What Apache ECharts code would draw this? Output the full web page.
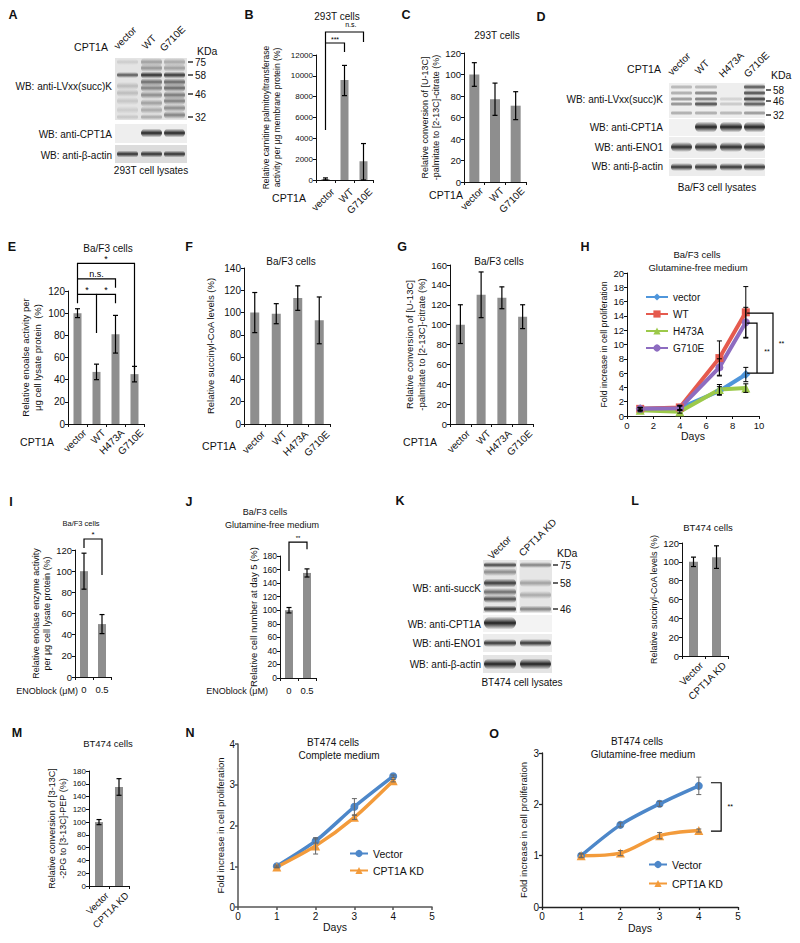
<!DOCTYPE html>
<html><head><meta charset="utf-8">
<script src="https://cdn.jsdelivr.net/npm/echarts/dist/echarts.min.js"></script>
<style>html,body{margin:0;padding:0;background:#fff}#c{width:800px;height:943px}</style>
</head><body><div id="c"></div><script>
// ---------------- DATA ----------------
const cpt3 = ['vector','WT','G710E'];
const cpt4 = ['vector','WT','H473A','G710E'];
const enoDose = ['0','0.5'];
const kdCats = ['Vector','CPT1A KD'];

const B_mean=[100,9600,1800], B_lo=[0,8100,0], B_hi=[200,11000,3500];
const C_mean=[100,77,71], C_lo=[89,62,58], C_hi=[111,92,84];
const E_mean=[100,47,81,45], E_lo=[96,40,64,38], E_hi=[104,54,98,52];
const F_mean=[100,99,113,93], F_lo=[82,90,102,72], F_hi=[118,108,124,114];
const G_mean=[100,130,127,108], G_lo=[81,107,116,96], G_hi=[120,153,138,120];
const I_mean=[100,50], I_lo=[83,41], I_hi=[117,59];
const J_mean=[100,155], J_lo=[96,149], J_hi=[104,161];
const L_mean=[100,105], L_lo=[95,93], L_hi=[105,117];
const M_mean=[100,155], M_lo=[96,142], M_hi=[104,168];

const H_days=[1,4,7,9];
const H_vector=[1.0,1.1,3.5,5.8],  H_vector_err=[0.2,0.3,0.6,1.0];
const H_WT=[1.0,1.2,8.1,14.5],     H_WT_err=[0.2,0.3,2.4,3.6];
const H_H473A=[0.8,0.6,3.7,3.9],   H_H473A_err=[0.2,0.2,0.7,0.6];
const H_G710E=[1.0,1.1,6.8,13.1],  H_G710E_err=[0.2,0.3,1.2,2.1];

const NO_days=[1,2,3,4];
const N_vector=[1.0,1.62,2.46,3.21], N_vector_err=[0.03,0.05,0.2,0.03];
const N_kd=[0.98,1.5,2.2,3.1],       N_kd_err=[0.02,0.2,0.05,0.03];
const O_vector=[1.0,1.6,2.01,2.36],  O_vector_err=[0.04,0.04,0.05,0.17];
const O_kd=[1.0,1.05,1.39,1.49],     O_kd_err=[0.03,0.05,0.06,0.03];

const yTicksH=[0,20,2], yTicksN=[0,4,1], yTicksO=[0,3,1], xTicksH=[0,10,2], xTicksNO=[0,5,1];

// ---------------- STYLE / LAYOUT ----------------
const FONT='"Liberation Sans", Arial, Helvetica, sans-serif';
const BAR='#8e8e8e';
const grids=[], xAxes=[], yAxes=[], series=[], graphics=[];

function txt(x,y,s,fs,o){o=o||{};graphics.push({type:'text',x:x,y:y,rotation:o.rot||0,z:50,
  style:{text:s,fontSize:fs,fontFamily:FONT,fill:'#111',fontWeight:o.bold?'bold':'normal',
  align:o.align||'center',verticalAlign:o.va||'middle'}});}

function errCustom(gi,xs,lo,hi,cap,color,lw){
  return {type:'custom',xAxisIndex:gi,yAxisIndex:gi,silent:true,z:5,
    data:xs.map((x,i)=>[x,lo[i],hi[i]]),
    renderItem:(p,api)=>{
      const a=api.coord([api.value(0),api.value(1)]), b=api.coord([api.value(0),api.value(2)]);
      const st={stroke:color||'#000',lineWidth:lw||1.2};
      return {type:'group',children:[
        {type:'line',shape:{x1:a[0],y1:a[1],x2:b[0],y2:b[1]},style:st},
        {type:'line',shape:{x1:a[0]-cap,y1:a[1],x2:a[0]+cap,y2:a[1]},style:st},
        {type:'line',shape:{x1:b[0]-cap,y1:b[1],x2:b[0]+cap,y2:b[1]},style:st}]};
    }};
}
function bracketSeries(gi,list){
  return {type:'custom',xAxisIndex:gi,yAxisIndex:gi,silent:true,z:6,
    data:list.map(()=>[0,0]),
    renderItem:(p,api)=>{
      const b=list[p.dataIndex];
      const pts=b.pts.map(q=>api.coord(q));
      const ch=[{type:'polyline',shape:{points:pts},style:{stroke:'#000',lineWidth:1.2,fill:null}}];
      if(b.t){
        let sx=0; b.tx.forEach(v=>{sx+=api.coord([v,b.ty])[0];});
        const cx=sx/b.tx.length+(b.dx||0), cy=api.coord([b.tx[0],b.ty])[1];
        ch.push({type:'text',x:cx,y:cy,style:{text:b.t,fontSize:b.fs||9,fill:'#000',fontFamily:FONT,align:'center',verticalAlign:'middle'}});
      }
      return {type:'group',children:ch};
    }};
}
const axLine={show:true,lineStyle:{color:'#111',width:1}};
const axTick={show:true,length:3,lineStyle:{color:'#111'}};

function barPanel(c){
  grids.push({left:c.g[0],top:c.g[1],width:c.g[2],height:c.g[3]});
  const gi=grids.length-1;
  const lab={rotate:c.rot,interval:0,fontSize:c.cfs||10,color:'#111',margin:7,fontFamily:FONT};
  if(c.rot){lab.align='right';lab.verticalAlign='top';lab.padding=[c.lp||5,0,0,0];lab.margin=c.lm||0;}
  xAxes.push({type:'category',gridIndex:gi,data:c.cats,axisLine:axLine,axisTick:axTick,axisLabel:lab});
  yAxes.push({type:'value',gridIndex:gi,min:0,max:c.max,interval:c.iv,name:c.name,nameLocation:'middle',
    nameGap:c.gap,nameTextStyle:{fontSize:c.nfs,lineHeight:c.nfs+2,color:'#111',fontFamily:FONT},
    axisLine:axLine,axisTick:axTick,splitLine:{show:false},
    axisLabel:{fontSize:c.lfs,color:'#111',margin:3,fontFamily:FONT,formatter:v=>String(v)}});
  series.push({type:'bar',xAxisIndex:gi,yAxisIndex:gi,data:c.mean,barWidth:c.bw||8,silent:true,
    itemStyle:{color:BAR}});
  series.push(errCustom(gi,c.mean.map((v,i)=>i),c.lo,c.hi,2.5));
  if(c.br) series.push(bracketSeries(gi,c.br));
}

barPanel({cats:cpt3,mean:B_mean,lo:B_lo,hi:B_hi,g:[316,55,57,125],max:12000,iv:2000,rot:45,lm:3,bw:8,
  name:'Relative carnitine palmitoyltransferase\nactivity per \u03bcg membrane protein (%)',gap:34,nfs:8.5,lfs:8,
  br:[{pts:[[0,4800],[0,14208],[2,14208],[2,13248]],t:'n.s.',tx:[1,1,2],ty:14900,fs:7},
      {pts:[[0,13152],[1,13152],[1,12288]],t:'***',tx:[0,1],ty:13500,fs:7}]});
barPanel({cats:cpt3,mean:C_mean,lo:C_lo,hi:C_hi,g:[464,53,62,129],max:120,iv:20,rot:45,bw:10,
  name:'Relative conversion of [U-13C]\n-palmitate to [2-13C]-citrate (%)',gap:21,nfs:9,lfs:9.5});
barPanel({cats:cpt4,mean:E_mean,lo:E_lo,hi:E_hi,g:[68,291,76,133],max:120,iv:20,rot:45,bw:8,
  name:'Relative enoalse activity per\n\u03bcg cell lysate protein  (%)',gap:25,nfs:9.5,lfs:10,
  br:[{pts:[[0,109],[0,145],[3,145],[3,49]],t:'*',tx:[1,2],ty:149,fs:9},
      {pts:[[0,131],[2,131],[2,123]],t:'n.s.',tx:[1],ty:135.5,fs:9},
      {pts:[[0,117],[1,117],[1,82]],t:'*',tx:[0,1],ty:121,fs:9},
      {pts:[[1,117],[2,117],[2,109]],t:'*',tx:[1,2],ty:121,fs:9}]});
barPanel({cats:cpt4,mean:F_mean,lo:F_lo,hi:F_hi,g:[244,268,86,156],max:140,iv:20,rot:45,lp:7,bw:9,
  name:'Relative succinyl-CoA levels (%)',gap:28,nfs:9.5,lfs:10});
barPanel({cats:cpt4,mean:G_mean,lo:G_lo,hi:G_hi,g:[450,265,83,159],max:160,iv:20,rot:45,lp:6,bw:9,
  name:'Relative conversion of [U-13C]\n-palmitate to [2-13C]-citrate (%)',gap:20,nfs:9.5,lfs:9.5});
barPanel({cats:enoDose,mean:I_mean,lo:I_lo,hi:I_hi,g:[75,550,36,127],max:120,iv:20,rot:0,cfs:9.5,bw:8,
  name:'Relative enolase enzyme activity\nper \u03bcg cell lysate protein (%)',gap:19,nfs:9,lfs:9.5,
  br:[{pts:[[0,122],[0,130.4],[1,130.4],[1,96.4]],t:'*',tx:[0,1],ty:135,fs:8}]});
barPanel({cats:enoDose,mean:J_mean,lo:J_lo,hi:J_hi,g:[280,556,36,122],max:180,iv:20,rot:0,cfs:9.5,bw:8,
  name:'Relative cell number at day 5 (%)',gap:21,nfs:9.5,lfs:8.5,
  br:[{pts:[[0,158],[0,200.6],[1,200.6],[1,190]],t:'**',tx:[0,1],ty:206,fs:6}]});
barPanel({cats:kdCats,mean:L_mean,lo:L_lo,hi:L_hi,g:[682,543,46,113],max:120,iv:20,rot:45,lp:6,bw:9,
  name:'Relative succinyl-CoA levels (%)',gap:22,nfs:9,lfs:9.5});
barPanel({cats:kdCats,mean:M_mean,lo:M_lo,hi:M_hi,g:[89,771,40,115],max:180,iv:20,rot:45,lp:6,cfs:9.5,bw:8,
  name:'Relative conversion of [3-13C]\n-2PG to [3-13C]-PEP (%)',gap:20,nfs:9,lfs:8});

// ---- line panels ----
function linePanel(c){
  grids.push({left:c.g[0],top:c.g[1],width:c.g[2],height:c.g[3]});
  const gi=grids.length-1;
  const al={show:true,lineStyle:{color:c.axc||'#111',width:c.axw||1}};
  const at={show:true,length:3,lineStyle:{color:c.axc||'#111',width:c.axw||1}};
  xAxes.push({type:'value',gridIndex:gi,min:c.xt[0],max:c.xt[1],interval:c.xt[2],name:'Days',nameLocation:'middle',
    nameGap:c.xgap,nameTextStyle:{fontSize:10.5,color:'#111',fontFamily:FONT},axisLine:al,axisTick:at,splitLine:{show:false},
    axisLabel:{fontSize:c.lfs,color:'#111',margin:4,fontFamily:FONT}});
  yAxes.push({type:'value',gridIndex:gi,min:c.yt[0],max:c.yt[1],interval:c.yt[2],name:'Fold increase in cell proliferation',
    nameLocation:'middle',nameGap:c.ygap,nameTextStyle:{fontSize:c.nfs,color:'#111',fontFamily:FONT},
    axisLine:al,axisTick:at,splitLine:{show:false},axisLabel:{fontSize:c.lfs,color:'#111',margin:3,fontFamily:FONT}});
  c.lines.forEach(L=>{
    series.push({name:L.name,type:'line',xAxisIndex:gi,yAxisIndex:gi,data:c.days.map((d,i)=>[d,L.v[i]]),
      smooth:c.smooth||false,symbol:L.sym,symbolSize:L.ss,lineStyle:{width:c.lw,color:L.col},itemStyle:{color:L.col},z:3,silent:true});
  });
  c.lines.forEach(L=>{
    series.push(errCustom(gi,c.days,L.v.map((v,i)=>v-L.e[i]),L.v.map((v,i)=>v+L.e[i]),2.5,c.errc||'#000',1));
  });
  if(c.br) series.push(bracketSeries(gi,c.br));
}
linePanel({g:[627,273,132,143],xt:xTicksH,yt:yTicksH,days:H_days,xgap:12,ygap:19,nfs:8.8,lfs:9.5,lw:4,
  lines:[{name:'vector',v:H_vector,e:H_vector_err,col:'#4f96db',sym:'diamond',ss:9},
         {name:'WT',v:H_WT,e:H_WT_err,col:'#e55a4e',sym:'rect',ss:8},
         {name:'H473A',v:H_H473A,e:H_H473A_err,col:'#9cc94a',sym:'triangle',ss:9},
         {name:'G710E',v:H_G710E,e:H_G710E_err,col:'#8d6cc0',sym:'circle',ss:8}],
  br:[{pts:[[9.1,14.4],[11.06,14.4],[11.06,6.0],[9.1,6.0]],t:'**',tx:[11.7],ty:10.2,fs:7},
      {pts:[[9.1,13.0],[9.85,13.0],[9.85,6.0]],t:'**',tx:[10.6],ty:9.0,fs:7}]});
linePanel({g:[238,744,194,163],xt:xTicksNO,yt:yTicksN,days:NO_days,xgap:8,ygap:13,nfs:9.5,lfs:10,lw:3.5,smooth:0.25,
  axc:'#555',axw:1.5,errc:'#666',
  lines:[{name:'Vector',v:N_vector,e:N_vector_err,col:'#4d87c9',sym:'circle',ss:8},
         {name:'CPT1A KD',v:N_kd,e:N_kd_err,col:'#f39b3b',sym:'triangle',ss:9}]});
linePanel({g:[542,753,196,154],xt:xTicksNO,yt:yTicksO,days:NO_days,xgap:15,ygap:14,nfs:9.5,lfs:10,lw:3.5,smooth:0.3,
  axc:'#222',axw:1.3,errc:'#666',
  lines:[{name:'Vector',v:O_vector,e:O_vector_err,col:'#4d87c9',sym:'circle',ss:8},
         {name:'CPT1A KD',v:O_kd,e:O_kd_err,col:'#f39b3b',sym:'triangle',ss:9}],
  br:[{pts:[[4.31,2.42],[4.57,2.42],[4.57,1.48],[4.31,1.48]],t:'**',tx:[4.8],ty:1.95,fs:7}]});

// ---------------- TEXT ----------------
[['A',13,15],['B',249,15],['C',406,15],['D',541,17],['E',12,247],['F',189,247],['G',402,247],['H',585,247],
 ['I',11,502],['J',189,502],['K',400,501],['L',635,501],['M',17,733],['N',190,733],['O',494,734]]
 .forEach(p=>txt(p[1],p[2],p[0],12.5,{bold:true}));
txt(337,16,'293T cells',10); txt(497,35,'293T cells',10);
txt(108,248,'Ba/F3 cells',10); txt(291,261,'Ba/F3 cells',10); txt(499,261,'Ba/F3 cells',10);
txt(697,254,'Ba/F3 cells',9.5); txt(698,267,'Glutamine-free medium',9.5);
txt(81,523,'Ba/F3 cells',7.5);
txt(265,512,'Ba/F3 cells',9); txt(272,525,'Glutamine-free medium',9);
txt(708,527,'BT474 cells',9.5); txt(108,743,'BT474 cells',9.5);
txt(333,742,'BT474 cells',10); txt(339,755,'Complete medium',10);
txt(637,741,'BT474 cells',10); txt(643,754,'Glutamine-free medium',10);
txt(289,198,'CPT1A',10.5); txt(446,195,'CPT1A',10.5); txt(37,442,'CPT1A',10.5);
txt(219,446,'CPT1A',10.5); txt(420,442,'CPT1A',10.5);
txt(78,691,'ENOblock (\u03bcM)',9,{align:'right'}); txt(268,691,'ENOblock (\u03bcM)',9,{align:'right'});

// ---------------- WESTERN BLOTS (decorative graphics) ----------------
function box(x,y,w,h,bg){graphics.push({type:'rect',z:1,shape:{x:x,y:y,width:w,height:h},style:{fill:bg}});}
function band(x,y,w,h,d){graphics.push({type:'rect',z:2,shape:{x:x,y:y-h/2,width:w,height:h,r:h/2},
  style:{fill:{type:'linear',x:0,y:0,x2:0,y2:1,colorStops:[{offset:0,color:'rgba(25,25,25,0)'},
  {offset:0.5,color:'rgba(25,25,25,'+d+')'},{offset:1,color:'rgba(25,25,25,0)'}]}}});}
function blot(b){box(b.x,b.y,b.w,b.h,b.bg);b.bands.forEach(q=>band(b.lanes[q[0]][0],q[1],b.lanes[q[0]][1],q[2],q[3]));}
function marker(x,y,s){graphics.push({type:'line',z:3,shape:{x1:x,y1:y,x2:x+5,y2:y},style:{stroke:'#111',lineWidth:1.3}});txt(x+7,y,s,10,{align:'left'});}
function lane(x,y,s,fs){txt(x,y,s,fs||10,{align:'left',va:'bottom',rot:Math.PI/4});}

// A
const laneA=[[117,21],[141,21],[164,21]];
blot({x:115,y:58,w:72,h:62,bg:'#e4e4e4',lanes:laneA,bands:[
 [0,62,6,.12],[0,75,6,.7],[0,86,8,.2],[0,93,8,.2],[0,101,8,.15],[0,110,8,.12],[0,117,6,.15],
 [1,62,8,.35],[1,68,8,.4],[1,75,7,.92],[1,82,8,.6],[1,88,8,.5],[1,95,8,.45],[1,103,8,.35],[1,110,8,.3],[1,117,6,.3],
 [2,62,8,.3],[2,68,8,.35],[2,75,7,.88],[2,82,8,.62],[2,88,8,.62],[2,95,8,.55],[2,101,8,.5],[2,108,8,.45],[2,115,8,.5]]});
blot({x:115,y:124,w:72,h:19,bg:'#eeeeee',lanes:laneA,bands:[[1,133,9,.95],[2,133,9,.95]]});
blot({x:115,y:145,w:72,h:18,bg:'#dcdcdc',lanes:laneA,bands:[[0,154,7,.9],[1,154,7,.9],[2,154,7,.9]]});
txt(112,86,'WB: anti-LVxx(succ)K',10,{align:'right'});
txt(112,134,'WB: anti-CPT1A',10,{align:'right'});
txt(112,155,'WB: anti-\u03b2-actin',10,{align:'right'});
txt(91,47,'CPT1A',10.5); txt(197,51,'KDa',10.5,{align:'left'});
lane(119,51,'vector'); lane(147,51,'WT'); lane(165,53,'G710E');
marker(188,62,'75'); marker(188,75,'58'); marker(188,94,'46'); marker(188,117,'32');
txt(151,170,'293T cell lysates',10);

// D
const laneD=[[671,21],[695,22],[720,22],[744,21]];
blot({x:669,y:83,w:96,h:35,bg:'#eeeeee',lanes:laneD,bands:[
 [0,87,5,.3],[0,93,5,.35],[0,99,5,.45],[0,104,5,.5],[0,113,5,.35],
 [1,87,5,.3],[1,93,5,.55],[1,99,5,.6],[1,104,6,.8],[1,113,5,.35],
 [2,99,5,.15],[2,104,5,.2],[2,113,5,.3],
 [3,87,6,.75],[3,93,6,.8],[3,99,6,.88],[3,104,6,.75],[3,113,5,.45]]});
blot({x:669,y:119,w:96,h:17,bg:'#f2f2f2',lanes:laneD,bands:[[1,127,11,.97],[2,127,11,.97],[3,127,11,.97]]});
blot({x:669,y:137,w:96,h:21,bg:'#eeeeee',lanes:laneD,bands:[[0,147,10,.92],[1,147,10,.92],[2,147,10,.92],[3,147,10,.92]]});
blot({x:669,y:159,w:96,h:17,bg:'#ececec',lanes:laneD,bands:[[0,167,8,.88],[1,167,8,.88],[2,167,8,.88],[3,167,8,.88]]});
txt(663,99,'WB: anti-LVxx(succ)K',10,{align:'right'});
txt(663,127,'WB: anti-CPT1A',10,{align:'right'});
txt(663,147,'WB: anti-ENO1',10,{align:'right'});
txt(663,166,'WB: anti-\u03b2-actin',10,{align:'right'});
txt(644,69,'CPT1A',10.5); txt(771,75,'KDa',10.5,{align:'left'});
lane(673,77,'vector'); lane(700,76,'WT'); lane(724,79,'H473A'); lane(749,79,'G710E');
marker(766,90,'58'); marker(766,101,'46'); marker(766,115,'32');
txt(717,187,'Ba/F3 cell lysates',10);

// K
const laneK=[[484,32],[520,31]];
blot({x:483,y:560,w:69,h:53,bg:'#e6e6e6',lanes:laneK,bands:[
 [0,565,6,.8],[0,572,8,.45],[0,583,9,.85],[0,592,8,.6],[0,599,8,.75],[0,609,7,.88],
 [1,565,6,.5],[1,583,8,.35],[1,595,8,.3],[1,609,7,.5]]});
graphics.push({type:'rect',z:3,shape:{x:517,y:560,width:2.5,height:53},style:{fill:'#fafafa'}});
blot({x:483,y:615,w:69,h:17,bg:'#f3f3f3',lanes:laneK,bands:[[0,623,13,.97]]});
blot({x:483,y:634,w:69,h:18,bg:'#ececec',lanes:laneK,bands:[[0,643,8,.88],[1,643,8,.88]]});
blot({x:483,y:655,w:69,h:18,bg:'#e4e4e4',lanes:laneK,bands:[[0,664,11,.97],[1,664,11,.97]]});
txt(481,588,'WB: anti-succK',10,{align:'right'});
txt(481,624,'WB: anti-CPT1A',10,{align:'right'});
txt(481,643,'WB: anti-ENO1',10,{align:'right'});
txt(481,664,'WB: anti-\u03b2-actin',10,{align:'right'});
txt(557,553,'KDa',10.5,{align:'left'});
lane(493,561,'Vector'); lane(524,558,'CPT1A KD');
marker(553,565,'75'); marker(553,583,'58'); marker(553,609,'46');
txt(522,682,'BT474 cell lysates',10);

// ---------------- CHART ----------------
const chart=echarts.init(document.getElementById('c'),null,{renderer:'svg',width:800,height:943});
const legBase={orient:'vertical',padding:0,selectedMode:false,textStyle:{fontSize:10.5,color:'#111',fontFamily:FONT}};
chart.setOption({
  animation:false,backgroundColor:'#fff',textStyle:{fontFamily:FONT},
  grid:grids,xAxis:xAxes,yAxis:yAxes,series:series,graphic:graphics,
  legend:[
    Object.assign({},legBase,{data:['vector','WT','H473A','G710E'],left:645,top:292,itemWidth:22,itemHeight:9,itemGap:7,textStyle:{fontSize:10,color:'#111',fontFamily:FONT}}),
    Object.assign({},legBase,{data:['Vector','CPT1A KD'],left:349,top:848,itemWidth:18,itemHeight:9,itemGap:6}),
    Object.assign({},legBase,{data:['Vector','CPT1A KD'],left:648,top:859,itemWidth:18,itemHeight:9,itemGap:8})
  ]
});
</script></body></html>
